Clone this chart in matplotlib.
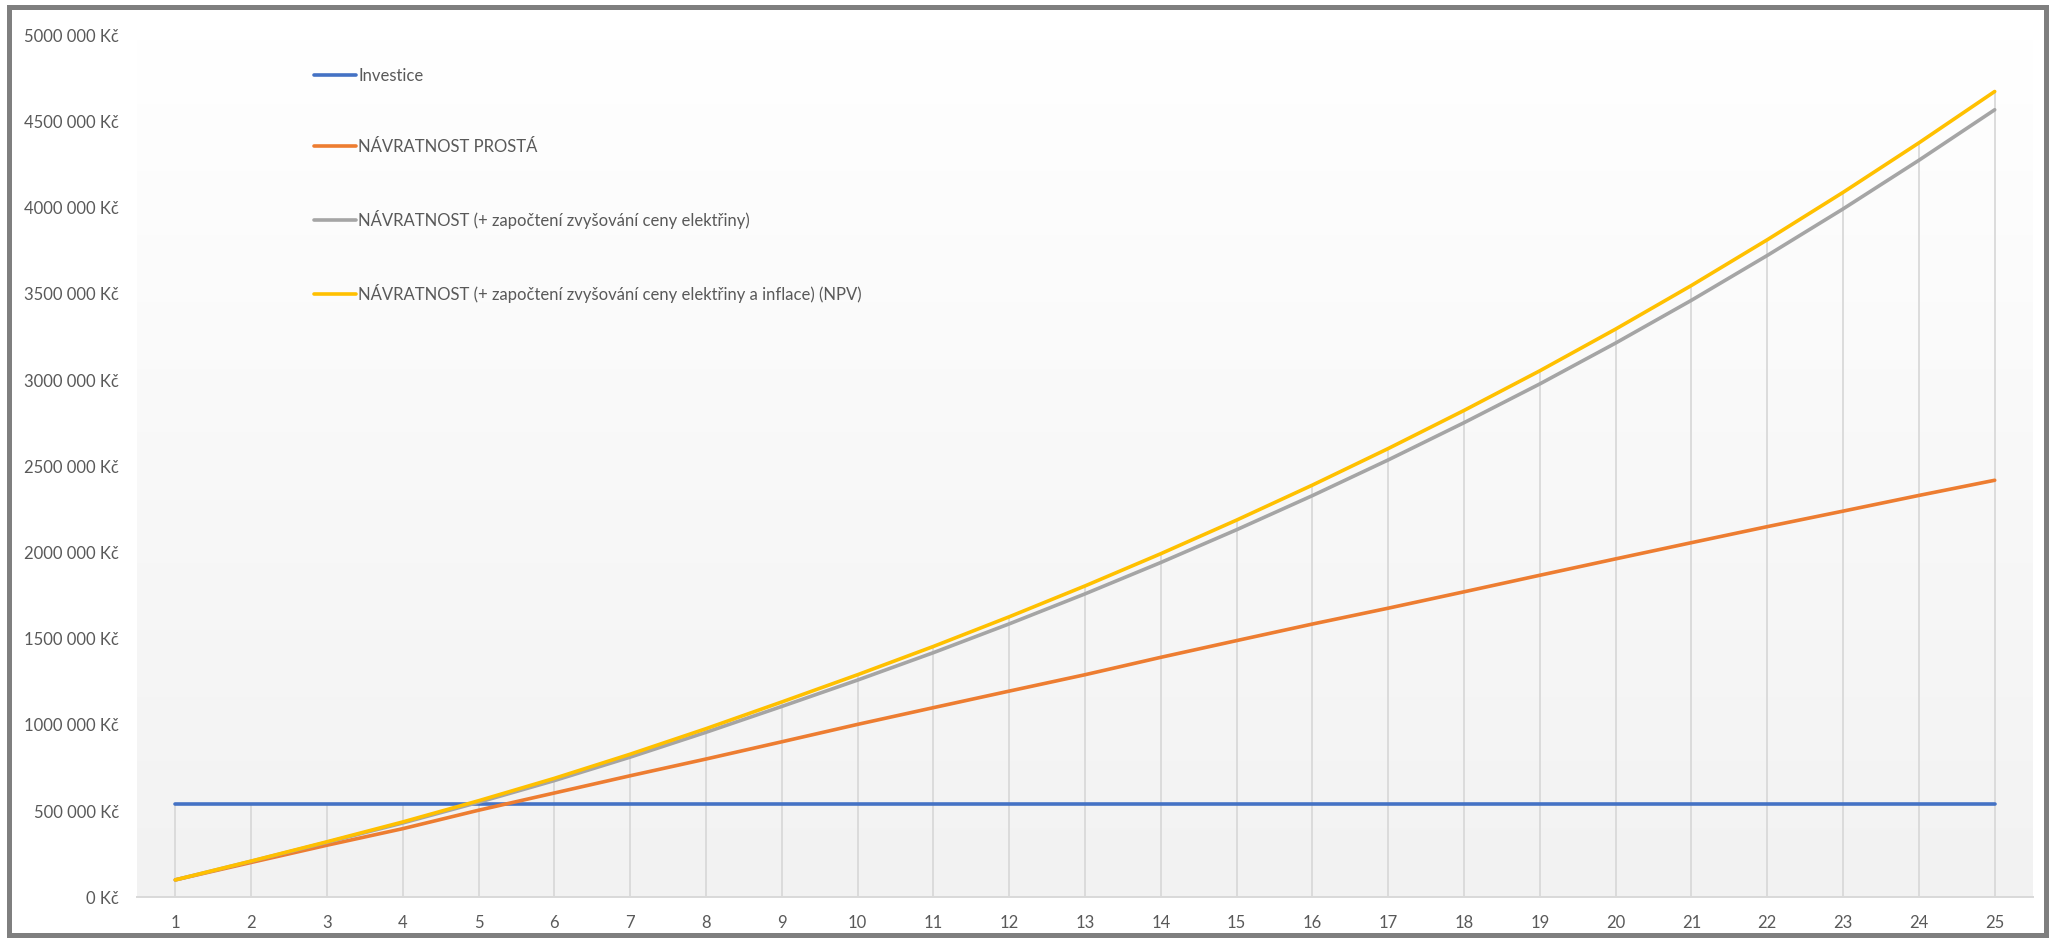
import numpy as np
import matplotlib
matplotlib.use("Agg")
import matplotlib.pyplot as plt
from matplotlib.colors import LinearSegmentedColormap
from matplotlib.patches import Rectangle

plt.rcParams['font.family'] = ['Lato', 'DejaVu Sans']

# ---- data -------------------------------------------------------------
years = list(range(1, 26))

investice = [540000] * 25

navratnost_prosta = [
    101000, 202000, 302000, 398000, 505000, 605000, 705000, 802000, 902000,
    1003000, 1100000, 1196000, 1291000, 1392000, 1489000, 1585000, 1677000,
    1772000, 1868000, 1963000, 2057000, 2150000, 2240000, 2331000, 2419000,
]

navratnost_elektrina = [
    101000, 209000, 319000, 431000, 551000, 677000, 813000, 957000, 1107000,
    1260000, 1419000, 1586000, 1760000, 1942000, 2132000, 2330000, 2537000,
    2753000, 2978000, 3215000, 3463000, 3723000, 3993000, 4275000, 4568000,
]

navratnost_npv = [
    101000, 210000, 322000, 437000, 560000, 690000, 830000, 978000, 1133000,
    1291000, 1455000, 1627000, 1806000, 1993000, 2188000, 2391000, 2603000,
    2824000, 3054000, 3296000, 3549000, 3814000, 4089000, 4376000, 4674000,
]

series_labels = [
    "Investice",
    "NÁVRATNOST PROSTÁ",
    "NÁVRATNOST (+ započtení zvyšování ceny elektřiny)",
    "NÁVRATNOST (+ započtení zvyšování ceny elektřiny a inflace) (NPV)",
]

y_ticks = [0, 500000, 1000000, 1500000, 2000000, 2500000,
           3000000, 3500000, 4000000, 4500000, 5000000]
y_tick_labels = ["0 Kč", "500 000 Kč", "1000 000 Kč", "1500 000 Kč",
                 "2000 000 Kč", "2500 000 Kč", "3000 000 Kč", "3500 000 Kč",
                 "4000 000 Kč", "4500 000 Kč", "5000 000 Kč"]

# ---- styling ----------------------------------------------------------
colors = ["#4472C4", "#ED7D31", "#A5A5A5", "#FFC000"]
text_color = "#595959"
grid_color = "#D9D9D9"

W, H, DPI = 2051, 938, 100
fig = plt.figure(figsize=(W / DPI, H / DPI), dpi=DPI)
fig.patch.set_facecolor("white")

left, right = 137.4 / W, 2032.6 / W
bottom, top = 1 - 897.3 / H, 1 - 35.3 / H
ax = fig.add_axes([left, bottom, right - left, top - bottom])

xmin, xmax = 0.5, 25.5
ymin, ymax = 0, 5000000
ax.set_xlim(xmin, xmax)
ax.set_ylim(ymin, ymax)

# soft vertical gradient in the plot area
grad_cmap = LinearSegmentedColormap.from_list("bg", ["#F2F2F2", "#FFFFFF"])
grad = np.linspace(0, 1, 256).reshape(-1, 1)
ax.imshow(grad, extent=[xmin, xmax, ymin, ymax], origin="lower",
          aspect="auto", cmap=grad_cmap, zorder=0, interpolation="bilinear")

# drop lines from the axis up to the highest series value
all_series = [investice, navratnost_prosta, navratnost_elektrina, navratnost_npv]
tops = np.max(np.array(all_series), axis=0)
ax.vlines(years, 0, tops, colors=grid_color, linewidth=1.3, zorder=1)

lines = []
for vals, col, lab in zip(all_series, colors, series_labels):
    ln, = ax.plot(years, vals, color=col, linewidth=2.6, label=lab,
                  solid_capstyle="round", solid_joinstyle="round", zorder=3)
    lines.append(ln)

# axes cosmetics
for side in ["left", "right", "top"]:
    ax.spines[side].set_visible(False)
ax.spines["bottom"].set_color(grid_color)
ax.spines["bottom"].set_linewidth(1.4)
ax.spines["bottom"].set_zorder(2)

ax.set_xticks(years)
ax.set_xticklabels([str(y) for y in years])
ax.set_yticks(y_ticks)
ax.set_yticklabels(y_tick_labels)
ax.tick_params(axis="both", length=0, labelsize=12, labelcolor=text_color)
ax.tick_params(axis="y", pad=13)
ax.tick_params(axis="x", pad=13)

leg = ax.legend(handles=lines, loc="upper left",
                bbox_to_anchor=(314 / W, 1 - 68 / H),
                bbox_transform=fig.transFigure,
                frameon=False, fontsize=12, labelcolor=text_color,
                handlelength=2.5, handletextpad=0.15, labelspacing=3.3,
                borderpad=0, borderaxespad=0)
for lh in leg.get_lines():
    lh.set_linewidth(2.6)

# grey outer frame
fig.patches.append(Rectangle((8.5 / W, 1 - 934.5 / H), (2045.5 - 8.5) / W,
                             (934.5 - 7.5) / H, transform=fig.transFigure,
                             fill=False, edgecolor="#7F7F7F", linewidth=3.6))

fig.savefig("out.png", dpi=DPI, facecolor="white")
